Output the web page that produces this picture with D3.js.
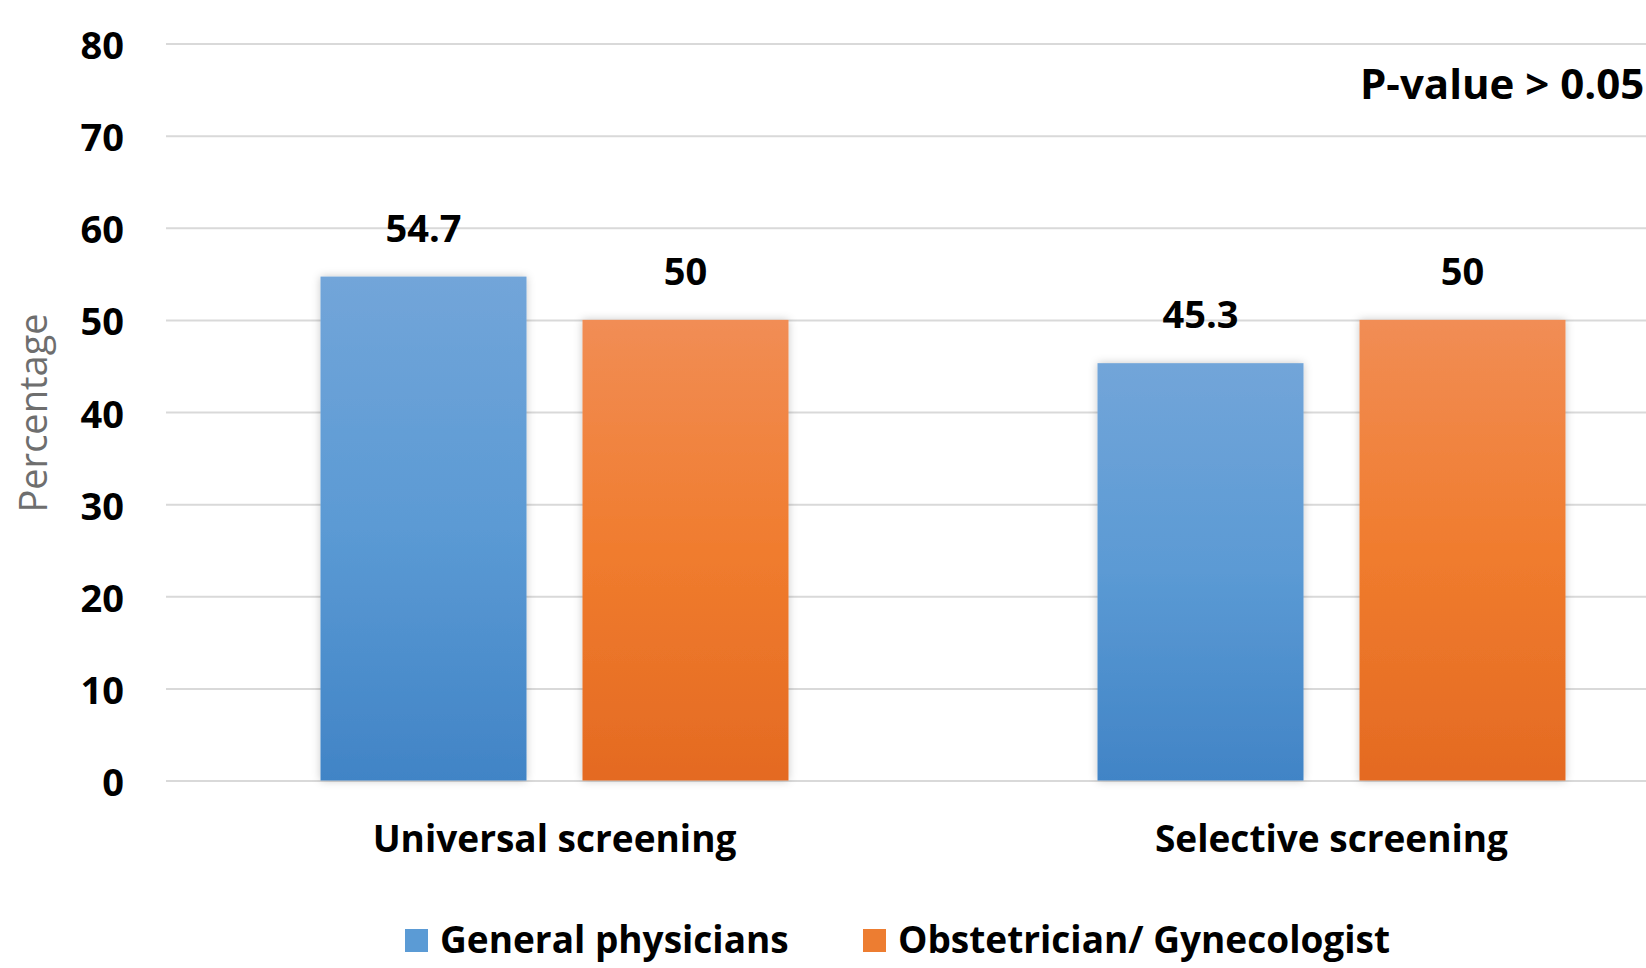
<!DOCTYPE html>
<html>
<head>
<meta charset="utf-8">
<script src="https://cdn.jsdelivr.net/npm/d3@7"></script>
<style>
  html, body { margin: 0; padding: 0; background: #ffffff; }
  svg { display: block; }
</style>
</head>
<body>
<svg id="chart" width="1646" height="968"></svg>
<script>
// Screening approach by physician group (percentage of respondents)
const categories = ["Universal screening", "Selective screening"];
const seriesNames = ["General physicians", "Obstetrician/ Gynecologist"];
const generalPhysicians = [54.7, 45.3];
const obGyn = [50, 50];
const yTicks = [0, 10, 20, 30, 40, 50, 60, 70, 80];
const yTitle = "Percentage";
const note = "P-value > 0.05";

const seriesValues = [generalPhysicians, obGyn];
const rows = categories.map((c, i) => ({
  category: c,
  values: seriesNames.map((s, j) => ({ series: s, value: seriesValues[j][i] }))
}));

const svg = d3.select("#chart");
const plot = { left: 166, right: 1720, top: 43.5, bottom: 780.5 };

const FONT = "'Open Sans', 'Noto Sans', sans-serif";

// gradients for the bar fills
const defs = svg.append("defs");
const gradStops = [
  ["#72a5d9", "#5b9ad4", "#4184c6"],
  ["#f18d55", "#f07c2e", "#e46a22"]
];
gradStops.forEach((stops, i) => {
  const g = defs.append("linearGradient")
    .attr("id", "grad" + i).attr("x1", 0).attr("y1", 0).attr("x2", 0).attr("y2", 1);
  stops.forEach((c, k) => g.append("stop").attr("offset", (k * 50) + "%").attr("stop-color", c));
});
const shadow = defs.append("filter").attr("id", "barShadow")
  .attr("x", "-10%").attr("y", "-10%").attr("width", "120%").attr("height", "120%");
shadow.append("feDropShadow").attr("dx", 0).attr("dy", 0).attr("stdDeviation", 4)
  .attr("flood-color", "#000").attr("flood-opacity", 0.22);

const color = d3.scaleOrdinal().domain(seriesNames).range(["url(#grad0)", "url(#grad1)"]);
const swatch = d3.scaleOrdinal().domain(seriesNames).range(["#5b9bd5", "#ed7d31"]);

const x0 = d3.scaleBand().domain(categories)
  .range([plot.left, plot.right])
  .paddingInner(0.3977).paddingOuter(0.19885);
const x1 = d3.scaleBand().domain(seriesNames)
  .range([0, x0.bandwidth()])
  .paddingInner(0.2137).paddingOuter(0);
const y = d3.scaleLinear().domain([0, 80]).range([plot.bottom, plot.top]);

// horizontal gridlines with tick labels
const yAxis = d3.axisLeft(y).tickValues(yTicks).tickSize(-(plot.right - plot.left)).tickFormat(d3.format("d"));
const gy = svg.append("g").attr("transform", `translate(${plot.left},0)`).call(yAxis);
gy.select(".domain").remove();
gy.selectAll(".tick line").attr("stroke", "#d9d9d9").attr("stroke-width", 2);
gy.selectAll(".tick text")
  .attr("x", -42).attr("dy", null).attr("dominant-baseline", "central")
  .attr("fill", "#000").style("font-family", FONT).style("font-weight", 700).style("font-size", "38px");

// bars
const groups = svg.append("g").selectAll("g").data(rows).join("g")
  .attr("transform", d => `translate(${x0(d.category)},0)`);
groups.selectAll("rect").data(d => d.values).join("rect")
  .attr("x", d => x1(d.series))
  .attr("y", d => y(d.value))
  .attr("width", x1.bandwidth())
  .attr("height", d => y(0) - y(d.value))
  .attr("fill", d => color(d.series))
  .attr("filter", "url(#barShadow)");

// value labels
groups.selectAll("text.val").data(d => d.values).join("text")
  .attr("class", "val")
  .attr("x", d => x1(d.series) + x1.bandwidth() / 2)
  .attr("y", d => y(d.value) - 35)
  .attr("text-anchor", "middle")
  .attr("fill", "#000")
  .style("font-family", FONT).style("font-weight", 700).style("font-size", "38px")
  .text(d => d.value);

// category axis labels
const xAxis = d3.axisBottom(x0).tickSize(0).tickPadding(0);
const gx = svg.append("g").attr("transform", `translate(0,${plot.bottom})`).call(xAxis);
gx.select(".domain").remove();
gx.selectAll(".tick text")
  .attr("y", 71).attr("dy", null)
  .attr("fill", "#000").style("font-family", FONT).style("font-weight", 700).style("font-size", "37px");

// y axis title
svg.append("text")
  .attr("transform", `translate(47,413) rotate(-90)`)
  .attr("text-anchor", "middle")
  .attr("fill", "#6e6e6e")
  .style("font-family", FONT).style("font-size", "38px")
  .text(yTitle);

// significance note
svg.append("text")
  .attr("x", 1360).attr("y", 99)
  .attr("fill", "#000")
  .style("font-family", FONT).style("font-weight", 700).style("font-size", "42px")
  .text(note);

// legend
const legend = svg.append("g").attr("transform", "translate(405,953)");
const legendOffsets = [0, 458];
seriesNames.forEach((s, i) => {
  const item = legend.append("g").attr("transform", `translate(${legendOffsets[i]},0)`);
  item.append("rect").attr("x", 0).attr("y", -24).attr("width", 23).attr("height", 23).attr("fill", swatch(s));
  item.append("text").attr("x", 35).attr("y", 0)
    .attr("fill", "#000")
    .style("font-family", FONT).style("font-weight", 700).style("font-size", "37px")
    .text(s);
});
</script>
</body>
</html>
